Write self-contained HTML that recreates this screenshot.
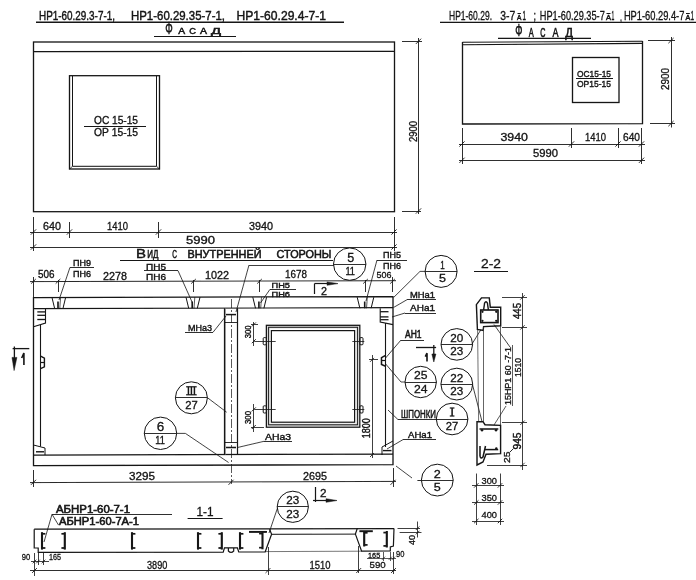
<!DOCTYPE html>
<html><head><meta charset="utf-8"><title>drawing</title>
<style>
html,body{margin:0;padding:0;background:#fff;}
body{width:696px;height:580px;overflow:hidden;}
svg{display:block;}
text{font-family:"Liberation Sans",sans-serif;fill:#141414;}
</style></head><body>
<svg width="696" height="580" viewBox="0 0 696 580">
<defs><filter id="scan" x="0" y="0" width="696" height="580" filterUnits="userSpaceOnUse"><feGaussianBlur stdDeviation="0.38"/></filter></defs>
<rect x="0" y="0" width="696" height="580" fill="#ffffff"/>
<g filter="url(#scan)">
<text x="39" y="19.6" font-size="12" textLength="76" lengthAdjust="spacingAndGlyphs" stroke="#141414" stroke-width="0.4" >НР1-60.29.3-7-1,</text>
<text x="131" y="19.6" font-size="12" textLength="94" lengthAdjust="spacingAndGlyphs" stroke="#141414" stroke-width="0.4" >НР1-60.29.35-7-1,</text>
<text x="236.5" y="19.6" font-size="12" textLength="89.5" lengthAdjust="spacingAndGlyphs" stroke="#141414" stroke-width="0.4" >НР1-60.29.4-7-1</text>
<line x1="36" y1="22.2" x2="344" y2="22.2" stroke="#141414" stroke-width="1.4" />
<text x="165.3" y="33.8" font-size="16.5" textLength="7.5" lengthAdjust="spacingAndGlyphs" stroke="#141414" stroke-width="0.45" >Ф</text>
<text x="178.3" y="33.8" font-size="8.6" textLength="6.899999999999977" lengthAdjust="spacingAndGlyphs" stroke="#141414" stroke-width="0.45" >А</text>
<text x="189.3" y="33.8" font-size="8.6" textLength="6.699999999999989" lengthAdjust="spacingAndGlyphs" stroke="#141414" stroke-width="0.45" >С</text>
<text x="200" y="33.8" font-size="8.6" textLength="7" lengthAdjust="spacingAndGlyphs" stroke="#141414" stroke-width="0.45" >А</text>
<text x="211" y="33.8" font-size="8.6" textLength="10" lengthAdjust="spacingAndGlyphs" stroke="#141414" stroke-width="0.45" >Д</text>
<line x1="154" y1="36.5" x2="236" y2="36.5" stroke="#141414" stroke-width="1.2" />
<rect x="33.5" y="42" width="361.0" height="169.7" stroke="#141414" stroke-width="1.3" fill="none"/>
<line x1="33.5" y1="51.7" x2="394.5" y2="51.3" stroke="#141414" stroke-width="1.3" />
<rect x="69.5" y="75.7" width="90.0" height="93.3" stroke="#141414" stroke-width="1.3" fill="none"/>
<path d="M72.5,76 L72.5,166.3 L156.5,166.3 L156.5,76" stroke="#141414" stroke-width="1.0" fill="none" />
<line x1="69.5" y1="169" x2="72.5" y2="166.3" stroke="#141414" stroke-width="0.8" />
<line x1="159.5" y1="169" x2="156.5" y2="166.3" stroke="#141414" stroke-width="0.8" />
<text x="94" y="124" font-size="11" textLength="44" lengthAdjust="spacingAndGlyphs" stroke="#141414" stroke-width="0.35" >ОС 15-15</text>
<line x1="84" y1="126.5" x2="146" y2="126.5" stroke="#141414" stroke-width="1.1" />
<text x="94" y="135.5" font-size="11" textLength="44" lengthAdjust="spacingAndGlyphs" stroke="#141414" stroke-width="0.35" >ОР 15-15</text>
<line x1="33.5" y1="217" x2="33.5" y2="251" stroke="#141414" stroke-width="0.9" />
<line x1="69.5" y1="222" x2="69.5" y2="238" stroke="#141414" stroke-width="0.9" />
<line x1="158.5" y1="222" x2="158.5" y2="238" stroke="#141414" stroke-width="0.9" />
<line x1="394.5" y1="217" x2="394.5" y2="251" stroke="#141414" stroke-width="0.9" />
<line x1="30" y1="232.5" x2="397" y2="232.5" stroke="#141414" stroke-width="0.9" />
<line x1="30" y1="247.5" x2="397" y2="247.5" stroke="#141414" stroke-width="0.9" />
<line x1="30.9" y1="234.6" x2="36.1" y2="229.4" stroke="#141414" stroke-width="0.9" />
<line x1="66.9" y1="234.6" x2="72.1" y2="229.4" stroke="#141414" stroke-width="0.9" />
<line x1="155.9" y1="234.6" x2="161.1" y2="229.4" stroke="#141414" stroke-width="0.9" />
<line x1="391.4" y1="234.6" x2="396.6" y2="229.4" stroke="#141414" stroke-width="0.9" />
<line x1="30.9" y1="249.6" x2="36.1" y2="244.4" stroke="#141414" stroke-width="0.9" />
<line x1="391.4" y1="249.6" x2="396.6" y2="244.4" stroke="#141414" stroke-width="0.9" />
<text x="43" y="230.3" font-size="10" textLength="18" lengthAdjust="spacingAndGlyphs" stroke="#141414" stroke-width="0.3" >640</text>
<text x="107" y="230.3" font-size="10" textLength="21" lengthAdjust="spacingAndGlyphs" stroke="#141414" stroke-width="0.3" >1410</text>
<text x="249" y="229.5" font-size="10" textLength="24" lengthAdjust="spacingAndGlyphs" stroke="#141414" stroke-width="0.3" >3940</text>
<text x="186" y="243.5" font-size="10" textLength="29" lengthAdjust="spacingAndGlyphs" stroke="#141414" stroke-width="0.3" >5990</text>
<line x1="418.5" y1="38" x2="418.5" y2="214" stroke="#141414" stroke-width="0.9" />
<line x1="402" y1="41.5" x2="422" y2="41.5" stroke="#141414" stroke-width="0.9" />
<line x1="402" y1="211.5" x2="421" y2="211.5" stroke="#141414" stroke-width="0.9" />
<line x1="415.9" y1="43.9" x2="421.1" y2="38.699999999999996" stroke="#141414" stroke-width="0.9" />
<line x1="415.9" y1="213.6" x2="421.1" y2="208.4" stroke="#141414" stroke-width="0.9" />
<text transform="translate(417,142) rotate(-90)" x="0" y="0" font-size="10" textLength="21" lengthAdjust="spacingAndGlyphs" stroke="#141414" stroke-width="0.3">2900</text>
<text x="449" y="19.6" font-size="12" textLength="43" lengthAdjust="spacingAndGlyphs" stroke="#141414" stroke-width="0.3" >НР1-60.29.</text>
<text x="500.2" y="19.6" font-size="12" textLength="15.000000000000057" lengthAdjust="spacingAndGlyphs" stroke="#141414" stroke-width="0.3" >3-7</text>
<text x="517" y="19.8" font-size="6.5" textLength="4.399999999999977" lengthAdjust="spacingAndGlyphs" stroke="#141414" stroke-width="0.45" >А</text>
<line x1="517.5" y1="13.5" x2="520.9" y2="13.5" stroke="#141414" stroke-width="1.0" />
<text x="522.6" y="19.6" font-size="12" textLength="3.3999999999999773" lengthAdjust="spacingAndGlyphs" stroke="#141414" stroke-width="0.4" >1</text>
<text x="533.5" y="19.6" font-size="12" textLength="2.5" lengthAdjust="spacingAndGlyphs" stroke="#141414" stroke-width="0.4" >;</text>
<text x="539.8" y="19.6" font-size="12" textLength="65.0" lengthAdjust="spacingAndGlyphs" stroke="#141414" stroke-width="0.3" >НР1-60.29.35-7</text>
<text x="606" y="19.8" font-size="6.5" textLength="5" lengthAdjust="spacingAndGlyphs" stroke="#141414" stroke-width="0.45" >А</text>
<line x1="606.5" y1="13.5" x2="610.5" y2="13.5" stroke="#141414" stroke-width="1.0" />
<text x="611.6" y="19.6" font-size="12" textLength="2.7999999999999545" lengthAdjust="spacingAndGlyphs" stroke="#141414" stroke-width="0.4" >1</text>
<text x="620" y="20.5" font-size="12" textLength="2" lengthAdjust="spacingAndGlyphs" stroke="#141414" stroke-width="0.4" >,</text>
<text x="623.9" y="19.6" font-size="12" textLength="60.5" lengthAdjust="spacingAndGlyphs" stroke="#141414" stroke-width="0.3" >НР1-60.29.4-7</text>
<text x="685.5" y="19.8" font-size="6.5" textLength="4.7999999999999545" lengthAdjust="spacingAndGlyphs" stroke="#141414" stroke-width="0.45" >А</text>
<line x1="686.0" y1="13.5" x2="689.8" y2="13.5" stroke="#141414" stroke-width="1.0" />
<text x="690.8" y="19.6" font-size="12" textLength="3.2000000000000455" lengthAdjust="spacingAndGlyphs" stroke="#141414" stroke-width="0.4" >1</text>
<line x1="440" y1="22.4" x2="696" y2="22.4" stroke="#141414" stroke-width="1.4" />
<text x="515.3" y="35.6" font-size="16.5" textLength="7.2000000000000455" lengthAdjust="spacingAndGlyphs" stroke="#141414" stroke-width="0.5" >Ф</text>
<text x="528.8" y="36.9" font-size="12.5" textLength="5.0" lengthAdjust="spacingAndGlyphs" stroke="#141414" stroke-width="0.55" >А</text>
<text x="540.3" y="36.9" font-size="12.5" textLength="5.2000000000000455" lengthAdjust="spacingAndGlyphs" stroke="#141414" stroke-width="0.55" >С</text>
<text x="552.4" y="36.9" font-size="12.5" textLength="6.0" lengthAdjust="spacingAndGlyphs" stroke="#141414" stroke-width="0.55" >А</text>
<text x="565.3" y="36.9" font-size="12.5" textLength="7.7000000000000455" lengthAdjust="spacingAndGlyphs" stroke="#141414" stroke-width="0.55" >Д</text>
<line x1="498" y1="38.4" x2="591" y2="38.4" stroke="#141414" stroke-width="1.3" />
<line x1="462.5" y1="42.2" x2="642.5" y2="41.2" stroke="#141414" stroke-width="1.1" />
<line x1="462.5" y1="44.8" x2="642.5" y2="43.4" stroke="#141414" stroke-width="1.1" />
<path d="M462.5,42 L462.5,124 L642.5,123.6 L642.5,41" stroke="#141414" stroke-width="1.3" fill="none" />
<rect x="572.5" y="57.5" width="46.5" height="45.0" stroke="#141414" stroke-width="1.3" fill="none"/>
<text x="577" y="77" font-size="9.6" textLength="34" lengthAdjust="spacingAndGlyphs" stroke="#141414" stroke-width="0.4" >ОС15-15</text>
<line x1="576" y1="78.5" x2="613" y2="78.5" stroke="#141414" stroke-width="1.1" />
<text x="577" y="87.2" font-size="9.6" textLength="34" lengthAdjust="spacingAndGlyphs" stroke="#141414" stroke-width="0.4" >ОР15-15</text>
<line x1="462.5" y1="128" x2="462.5" y2="164" stroke="#141414" stroke-width="0.9" />
<line x1="571.5" y1="128" x2="571.5" y2="148" stroke="#141414" stroke-width="0.9" />
<line x1="618.5" y1="128" x2="618.5" y2="148" stroke="#141414" stroke-width="0.9" />
<line x1="641.5" y1="128" x2="641.5" y2="164" stroke="#141414" stroke-width="0.9" />
<line x1="459" y1="144.5" x2="645" y2="144.5" stroke="#141414" stroke-width="0.9" />
<line x1="459" y1="160.5" x2="645" y2="160.5" stroke="#141414" stroke-width="0.9" />
<line x1="459.4" y1="146.6" x2="464.6" y2="141.4" stroke="#141414" stroke-width="0.9" />
<line x1="568.9" y1="146.6" x2="574.1" y2="141.4" stroke="#141414" stroke-width="0.9" />
<line x1="615.4" y1="146.6" x2="620.6" y2="141.4" stroke="#141414" stroke-width="0.9" />
<line x1="638.9" y1="146.6" x2="644.1" y2="141.4" stroke="#141414" stroke-width="0.9" />
<line x1="459.4" y1="162.9" x2="464.6" y2="157.70000000000002" stroke="#141414" stroke-width="0.9" />
<line x1="638.9" y1="162.9" x2="644.1" y2="157.70000000000002" stroke="#141414" stroke-width="0.9" />
<text x="500.5" y="141.3" font-size="10" textLength="27.5" lengthAdjust="spacingAndGlyphs" stroke="#141414" stroke-width="0.3" >3940</text>
<text x="585" y="141.3" font-size="10" textLength="21" lengthAdjust="spacingAndGlyphs" stroke="#141414" stroke-width="0.3" >1410</text>
<text x="623" y="141.3" font-size="10" textLength="17" lengthAdjust="spacingAndGlyphs" stroke="#141414" stroke-width="0.3" >640</text>
<text x="533" y="157.3" font-size="10" textLength="25" lengthAdjust="spacingAndGlyphs" stroke="#141414" stroke-width="0.3" >5990</text>
<line x1="671.5" y1="37" x2="671.5" y2="127.5" stroke="#141414" stroke-width="0.9" />
<line x1="648" y1="40.5" x2="675" y2="40.5" stroke="#141414" stroke-width="0.9" />
<line x1="650" y1="123.5" x2="675" y2="123.5" stroke="#141414" stroke-width="0.9" />
<line x1="668.4" y1="43.2" x2="673.6" y2="38.0" stroke="#141414" stroke-width="0.9" />
<line x1="668.4" y1="126.19999999999999" x2="673.6" y2="121.0" stroke="#141414" stroke-width="0.9" />
<text transform="translate(669,90) rotate(-90)" x="0" y="0" font-size="10" textLength="22" lengthAdjust="spacingAndGlyphs" stroke="#141414" stroke-width="0.3">2900</text>
<text x="136" y="258" font-size="13.5" textLength="10" lengthAdjust="spacingAndGlyphs" stroke="#141414" stroke-width="0.45" >В</text>
<text x="147.3" y="258" font-size="10.8" textLength="11.199999999999989" lengthAdjust="spacingAndGlyphs" stroke="#141414" stroke-width="0.5" >ИД</text>
<text x="172.3" y="258" font-size="10.5" textLength="4.699999999999989" lengthAdjust="spacingAndGlyphs" stroke="#141414" stroke-width="0.5" >С</text>
<text x="187.5" y="258" font-size="10.5" textLength="74.0" lengthAdjust="spacingAndGlyphs" stroke="#141414" stroke-width="0.5" >ВНУТРЕННЕЙ</text>
<text x="276.5" y="258" font-size="10.5" textLength="55.0" lengthAdjust="spacingAndGlyphs" stroke="#141414" stroke-width="0.5" >СТОРОНЫ</text>
<line x1="120" y1="260.5" x2="333" y2="260.5" stroke="#141414" stroke-width="1.2" />
<line x1="30" y1="281.6" x2="396" y2="280.7" stroke="#141414" stroke-width="0.9" />
<line x1="33.5" y1="277" x2="33.5" y2="297" stroke="#141414" stroke-width="0.9" />
<line x1="58.5" y1="280" x2="58.5" y2="292" stroke="#141414" stroke-width="0.9" />
<line x1="193.5" y1="280" x2="193.5" y2="292" stroke="#141414" stroke-width="0.9" />
<line x1="259.5" y1="280" x2="259.5" y2="292" stroke="#141414" stroke-width="0.9" />
<line x1="365.5" y1="280" x2="365.5" y2="292" stroke="#141414" stroke-width="0.9" />
<line x1="392.5" y1="277" x2="392.5" y2="292" stroke="#141414" stroke-width="0.9" />
<line x1="31.2" y1="283.6" x2="35.8" y2="279.0" stroke="#141414" stroke-width="0.9" />
<line x1="55.7" y1="283.6" x2="60.3" y2="279.0" stroke="#141414" stroke-width="0.9" />
<line x1="191.2" y1="283.6" x2="195.8" y2="279.0" stroke="#141414" stroke-width="0.9" />
<line x1="257.2" y1="283.6" x2="261.8" y2="279.0" stroke="#141414" stroke-width="0.9" />
<line x1="363.2" y1="283.6" x2="367.8" y2="279.0" stroke="#141414" stroke-width="0.9" />
<line x1="390.2" y1="283.6" x2="394.8" y2="279.0" stroke="#141414" stroke-width="0.9" />
<text x="38" y="278.3" font-size="11" textLength="16.5" lengthAdjust="spacingAndGlyphs" stroke="#141414" stroke-width="0.35" >506</text>
<text x="103" y="279.5" font-size="10" textLength="24" lengthAdjust="spacingAndGlyphs" stroke="#141414" stroke-width="0.3" >2278</text>
<text x="205" y="279" font-size="10" textLength="24" lengthAdjust="spacingAndGlyphs" stroke="#141414" stroke-width="0.3" >1022</text>
<text x="285" y="278.2" font-size="10" textLength="22" lengthAdjust="spacingAndGlyphs" stroke="#141414" stroke-width="0.3" >1678</text>
<text x="376.5" y="278.3" font-size="9.5" textLength="15.0" lengthAdjust="spacingAndGlyphs" stroke="#141414" stroke-width="0.3" >506</text>
<text x="73" y="266.3" font-size="9" textLength="18" lengthAdjust="spacingAndGlyphs" stroke="#141414" stroke-width="0.4" >ПН9</text>
<line x1="70" y1="267.5" x2="94" y2="267.5" stroke="#141414" stroke-width="0.9" />
<text x="73" y="277.2" font-size="9" textLength="18" lengthAdjust="spacingAndGlyphs" stroke="#141414" stroke-width="0.4" >ПН6</text>
<line x1="70" y1="267.3" x2="59" y2="300" stroke="#141414" stroke-width="0.8" />
<text x="146" y="269.5" font-size="9" textLength="20" lengthAdjust="spacingAndGlyphs" stroke="#141414" stroke-width="0.4" >ПН5</text>
<line x1="144" y1="270.5" x2="178" y2="270.5" stroke="#141414" stroke-width="0.9" />
<text x="146" y="280" font-size="9" textLength="20" lengthAdjust="spacingAndGlyphs" stroke="#141414" stroke-width="0.4" >ПН6</text>
<line x1="178" y1="270.7" x2="192.5" y2="303" stroke="#141414" stroke-width="0.8" />
<text x="271.5" y="288.3" font-size="8" textLength="18.5" lengthAdjust="spacingAndGlyphs" stroke="#141414" stroke-width="0.4" >ПН5</text>
<line x1="270" y1="289.5" x2="296" y2="289.5" stroke="#141414" stroke-width="0.9" />
<text x="271.5" y="297" font-size="8" textLength="18.5" lengthAdjust="spacingAndGlyphs" stroke="#141414" stroke-width="0.4" >ПН6</text>
<line x1="270" y1="289.3" x2="260.5" y2="303" stroke="#141414" stroke-width="0.8" />
<text x="383" y="258.3" font-size="9" textLength="18" lengthAdjust="spacingAndGlyphs" stroke="#141414" stroke-width="0.4" >ПН5</text>
<line x1="377" y1="260.5" x2="407" y2="260.5" stroke="#141414" stroke-width="0.9" />
<text x="383" y="268.5" font-size="9" textLength="18" lengthAdjust="spacingAndGlyphs" stroke="#141414" stroke-width="0.4" >ПН6</text>
<line x1="377" y1="260" x2="366" y2="301" stroke="#141414" stroke-width="0.8" />
<line x1="249" y1="265.5" x2="334" y2="265.5" stroke="#141414" stroke-width="0.8" />
<line x1="249" y1="265" x2="236" y2="312" stroke="#141414" stroke-width="0.8" />
<circle cx="349.7" cy="264.1" r="16.2" stroke="#141414" stroke-width="1.0" fill="none"/>
<line x1="333.5" y1="264.5" x2="365.9" y2="264.5" stroke="#141414" stroke-width="0.9" />
<text x="347.2" y="261.5" font-size="12" textLength="7.0" lengthAdjust="spacingAndGlyphs" stroke="#141414" stroke-width="0.3" >5</text>
<text x="345.4" y="274.82000000000005" font-size="11" textLength="9.600000000000023" lengthAdjust="spacingAndGlyphs" stroke="#141414" stroke-width="0.35" >11</text>
<path d="M33.5,297.6 L393,296.6 L393,464.6 L33.5,465.7 Z" stroke="#141414" stroke-width="1.3" fill="none" />
<line x1="33.5" y1="308.7" x2="393" y2="307.6" stroke="#141414" stroke-width="1.2" />
<line x1="33.5" y1="455.1" x2="393" y2="454.1" stroke="#141414" stroke-width="1.2" />
<line x1="40.5" y1="325" x2="40.5" y2="446.5" stroke="#141414" stroke-width="1.1" />
<path d="M45.5,308.3 L45.5,323 L33.5,326.7" stroke="#141414" stroke-width="1.1" fill="none" />
<line x1="37.3" y1="311.9" x2="45.5" y2="311.9" stroke="#141414" stroke-width="1.3" />
<line x1="37.3" y1="315.3" x2="45.5" y2="315.3" stroke="#141414" stroke-width="1.3" />
<line x1="37.3" y1="319.5" x2="45.5" y2="319.5" stroke="#141414" stroke-width="1.3" />
<path d="M33.5,445 L45,448 L45,455" stroke="#141414" stroke-width="1.0" fill="none" />
<line x1="36" y1="451.8" x2="44" y2="451.8" stroke="#141414" stroke-width="1.4" />
<path d="M40.6,356.2 L44.4,358.2 L44.4,366.8 L40.6,368.6" stroke="#141414" stroke-width="1.4" fill="none" />
<line x1="40.6" y1="362.5" x2="44.4" y2="362.5" stroke="#141414" stroke-width="1.2" />
<line x1="385.5" y1="323" x2="385.5" y2="447" stroke="#141414" stroke-width="1.1" />
<path d="M380.2,308.3 L380.2,322 L393,324.6" stroke="#141414" stroke-width="1.1" fill="none" />
<line x1="380.2" y1="311.7" x2="388.5" y2="311.7" stroke="#141414" stroke-width="1.3" />
<line x1="380.2" y1="316.9" x2="388.5" y2="316.9" stroke="#141414" stroke-width="1.3" />
<line x1="380.2" y1="319.7" x2="388.5" y2="319.7" stroke="#141414" stroke-width="1.3" />
<path d="M393,441 L382,447 L382,455" stroke="#141414" stroke-width="1.0" fill="none" />
<line x1="383" y1="450.6" x2="391.5" y2="450.6" stroke="#141414" stroke-width="1.4" />
<path d="M385.6,355.3 L381.5,357.6 L381.5,364.5 L385.6,366.2" stroke="#141414" stroke-width="1.5" fill="none" />
<line x1="381.5" y1="360.5" x2="385.6" y2="360.5" stroke="#141414" stroke-width="1.2" />
<line x1="224.5" y1="308.3" x2="224.5" y2="455" stroke="#141414" stroke-width="1.2" />
<line x1="237.5" y1="308.3" x2="237.5" y2="455" stroke="#141414" stroke-width="1.2" />
<line x1="225.5" y1="308.3" x2="225.5" y2="455" stroke="#666" stroke-width="0.6" />
<line x1="231.5" y1="299" x2="231.5" y2="484" stroke="#141414" stroke-width="0.7" stroke-dasharray="9 2 2 2"/>
<line x1="226" y1="314.6" x2="236" y2="314.6" stroke="#141414" stroke-width="1.5" />
<line x1="224" y1="322.5" x2="237.6" y2="322.5" stroke="#141414" stroke-width="0.9" />
<line x1="224" y1="442.5" x2="237.6" y2="442.5" stroke="#141414" stroke-width="0.9" />
<line x1="226" y1="447.5" x2="236" y2="447.5" stroke="#141414" stroke-width="1.5" />
<line x1="51.9" y1="297.2" x2="54.6" y2="308.3" stroke="#141414" stroke-width="1.0" />
<line x1="65.7" y1="297.2" x2="63.0" y2="308.3" stroke="#141414" stroke-width="1.0" />
<line x1="58.0" y1="301.5" x2="58.0" y2="308.3" stroke="#141414" stroke-width="1.6" />
<line x1="60.599999999999994" y1="297.2" x2="59.8" y2="308.3" stroke="#141414" stroke-width="0.7" />
<line x1="186" y1="297.2" x2="188.7" y2="308.3" stroke="#141414" stroke-width="1.0" />
<line x1="200" y1="297.2" x2="197.3" y2="308.3" stroke="#141414" stroke-width="1.0" />
<line x1="192.2" y1="301.5" x2="192.2" y2="308.3" stroke="#141414" stroke-width="1.6" />
<line x1="194.8" y1="297.2" x2="194.0" y2="308.3" stroke="#141414" stroke-width="0.7" />
<line x1="252.8" y1="297.2" x2="255.5" y2="308.3" stroke="#141414" stroke-width="1.0" />
<line x1="266.6" y1="297.2" x2="263.90000000000003" y2="308.3" stroke="#141414" stroke-width="1.0" />
<line x1="258.90000000000003" y1="301.5" x2="258.90000000000003" y2="308.3" stroke="#141414" stroke-width="1.6" />
<line x1="261.50000000000006" y1="297.2" x2="260.70000000000005" y2="308.3" stroke="#141414" stroke-width="0.7" />
<line x1="357.2" y1="297.2" x2="359.9" y2="308.3" stroke="#141414" stroke-width="1.0" />
<line x1="373.8" y1="297.2" x2="371.1" y2="308.3" stroke="#141414" stroke-width="1.0" />
<line x1="364.7" y1="301.5" x2="364.7" y2="308.3" stroke="#141414" stroke-width="1.6" />
<line x1="367.3" y1="297.2" x2="366.5" y2="308.3" stroke="#141414" stroke-width="0.7" />
<rect x="268.5" y="327.2" width="89.10000000000002" height="97.6" fill="none" stroke="#c8c8c8" stroke-width="2.2"/>
<rect x="266.4" y="325.3" width="93.40000000000003" height="101.89999999999998" stroke="#141414" stroke-width="1.3" fill="none"/>
<rect x="268.6" y="327.3" width="89.0" height="97.5" stroke="#141414" stroke-width="0.9" fill="none"/>
<rect x="271.4" y="330.6" width="83.20000000000005" height="91.59999999999997" stroke="#141414" stroke-width="1.2" fill="none"/>
<rect x="263.2" y="337.6" width="3.2" height="7.2" rx="1" stroke="#141414" stroke-width="1" fill="none"/>
<line x1="254.2" y1="341.5" x2="275.7" y2="341.5" stroke="#141414" stroke-width="0.8" />
<rect x="263.2" y="405.8" width="3.2" height="7.2" rx="1" stroke="#141414" stroke-width="1" fill="none"/>
<line x1="254.2" y1="409.5" x2="275.7" y2="409.5" stroke="#141414" stroke-width="0.8" />
<rect x="359.8" y="337.6" width="3.2" height="7.2" rx="1" stroke="#141414" stroke-width="1" fill="none"/>
<line x1="352.3" y1="341.5" x2="364.3" y2="341.5" stroke="#141414" stroke-width="0.8" />
<rect x="359.8" y="405.8" width="3.2" height="7.2" rx="1" stroke="#141414" stroke-width="1" fill="none"/>
<line x1="352.3" y1="409.5" x2="364.3" y2="409.5" stroke="#141414" stroke-width="0.8" />
<line x1="253.5" y1="322" x2="253.5" y2="346" stroke="#141414" stroke-width="0.8" />
<line x1="251" y1="324.5" x2="258" y2="324.5" stroke="#141414" stroke-width="0.8" />
<line x1="251.8" y1="326.5" x2="255.8" y2="322.5" stroke="#141414" stroke-width="0.9" />
<line x1="251.8" y1="343.2" x2="255.8" y2="339.2" stroke="#141414" stroke-width="0.9" />
<text transform="translate(250.8,338.3) rotate(-90)" x="0" y="0" font-size="8.5" textLength="12.800000000000011" lengthAdjust="spacingAndGlyphs" stroke="#141414" stroke-width="0.35">300</text>
<line x1="253.5" y1="404" x2="253.5" y2="432" stroke="#141414" stroke-width="0.8" />
<line x1="251" y1="427.5" x2="264" y2="427.5" stroke="#141414" stroke-width="0.8" />
<line x1="251.8" y1="411.4" x2="255.8" y2="407.4" stroke="#141414" stroke-width="0.9" />
<line x1="251.8" y1="429" x2="255.8" y2="425" stroke="#141414" stroke-width="0.9" />
<text transform="translate(250.8,424) rotate(-90)" x="0" y="0" font-size="8.5" textLength="13" lengthAdjust="spacingAndGlyphs" stroke="#141414" stroke-width="0.35">300</text>
<line x1="372.5" y1="355" x2="372.5" y2="458" stroke="#141414" stroke-width="0.8" />
<line x1="369" y1="359.5" x2="378" y2="359.5" stroke="#141414" stroke-width="0.8" />
<line x1="370" y1="361.9" x2="374" y2="357.9" stroke="#141414" stroke-width="0.8" />
<line x1="370" y1="457" x2="374" y2="453" stroke="#141414" stroke-width="0.8" />
<text transform="translate(370.2,438.3) rotate(-90)" x="0" y="0" font-size="10.5" textLength="20.0" lengthAdjust="spacingAndGlyphs" stroke="#141414" stroke-width="0.4">1800</text>
<text x="188" y="331" font-size="9.5" textLength="24" lengthAdjust="spacingAndGlyphs" stroke="#141414" stroke-width="0.4" >МНа3</text>
<line x1="185" y1="332.5" x2="213" y2="332.5" stroke="#141414" stroke-width="0.9" />
<line x1="213" y1="332.3" x2="226" y2="316" stroke="#141414" stroke-width="0.8" />
<text x="265" y="440" font-size="9.5" textLength="26" lengthAdjust="spacingAndGlyphs" stroke="#141414" stroke-width="0.4" >АНа3</text>
<line x1="264" y1="441.5" x2="292" y2="441.5" stroke="#141414" stroke-width="0.9" />
<line x1="264" y1="441.3" x2="237.5" y2="447.5" stroke="#141414" stroke-width="0.8" />
<text x="410" y="297.6" font-size="9.5" textLength="25" lengthAdjust="spacingAndGlyphs" stroke="#141414" stroke-width="0.4" >МНа1</text>
<line x1="407" y1="299.5" x2="436" y2="299.5" stroke="#141414" stroke-width="0.9" />
<line x1="407" y1="299.7" x2="393.5" y2="307.5" stroke="#141414" stroke-width="0.8" />
<text x="410" y="311.3" font-size="9.5" textLength="25" lengthAdjust="spacingAndGlyphs" stroke="#141414" stroke-width="0.4" >АНа1</text>
<line x1="405" y1="313.5" x2="436" y2="313.5" stroke="#141414" stroke-width="0.9" />
<line x1="405" y1="313" x2="392" y2="317" stroke="#141414" stroke-width="0.8" />
<text x="405" y="338.2" font-size="10" textLength="16.5" lengthAdjust="spacingAndGlyphs" stroke="#141414" stroke-width="0.5" >АН1</text>
<line x1="401" y1="340.5" x2="424" y2="340.5" stroke="#141414" stroke-width="0.9" />
<line x1="401" y1="340" x2="385.6" y2="358" stroke="#141414" stroke-width="0.8" />
<text x="401" y="418.3" font-size="10" textLength="35" lengthAdjust="spacingAndGlyphs" stroke="#141414" stroke-width="0.45" >ШПОНКИ</text>
<line x1="398" y1="419.5" x2="437" y2="419.5" stroke="#141414" stroke-width="0.9" />
<line x1="398" y1="419.6" x2="388" y2="410" stroke="#141414" stroke-width="0.8" />
<text x="408" y="438" font-size="9.5" textLength="24" lengthAdjust="spacingAndGlyphs" stroke="#141414" stroke-width="0.4" >АНа1</text>
<line x1="403" y1="439.5" x2="436" y2="439.5" stroke="#141414" stroke-width="0.9" />
<line x1="403" y1="439.6" x2="387" y2="449" stroke="#141414" stroke-width="0.8" />
<line x1="12.6" y1="348.6" x2="29.3" y2="348.6" stroke="#141414" stroke-width="1.3" />
<line x1="14.4" y1="346.5" x2="14.4" y2="360" stroke="#141414" stroke-width="1.3" />
<path d="M12,357.4 L14.1,370.6 L16.9,357.4 Z" stroke="#141414" stroke-width="0.5" fill="#141414" />
<path d="M21.7,358 L23.9,353 L23.9,365" stroke="#141414" stroke-width="1.6" fill="none" />
<line x1="416" y1="347.5" x2="436.1" y2="347.5" stroke="#141414" stroke-width="1.3" />
<line x1="433.8" y1="345" x2="433.8" y2="356" stroke="#141414" stroke-width="1.3" />
<path d="M431.9,354 L433.8,362 L435.9,354 Z" stroke="#141414" stroke-width="0.5" fill="#141414" />
<path d="M425.3,356.6 L427,353.2 L427,361.5" stroke="#141414" stroke-width="1.6" fill="none" />
<line x1="314.5" y1="283.5" x2="330" y2="283.5" stroke="#141414" stroke-width="1.2" />
<line x1="314.5" y1="283.6" x2="314.5" y2="294" stroke="#141414" stroke-width="1.2" />
<path d="M327,281.9 L338,283.6 L327,285.3 Z" stroke="#141414" stroke-width="0.5" fill="#141414" />
<text x="321" y="295" font-size="10.5" textLength="6" lengthAdjust="spacingAndGlyphs" stroke="#141414" stroke-width="0.3" >2</text>
<line x1="315.5" y1="487" x2="315.5" y2="502" stroke="#141414" stroke-width="1.2" />
<line x1="313" y1="500.5" x2="328" y2="500.5" stroke="#141414" stroke-width="1.2" />
<path d="M326,498.7 L337,500.5 L326,502.3 Z" stroke="#141414" stroke-width="0.5" fill="#141414" />
<text x="320" y="497" font-size="11" textLength="6.5" lengthAdjust="spacingAndGlyphs" stroke="#141414" stroke-width="0.3" >2</text>
<circle cx="441.1" cy="271.4" r="16" stroke="#141414" stroke-width="1.0" fill="none"/>
<line x1="425.1" y1="271.5" x2="457.1" y2="271.5" stroke="#141414" stroke-width="0.9" />
<text x="440.15000000000003" y="268.79999999999995" font-size="11" textLength="4.5" lengthAdjust="spacingAndGlyphs" stroke="#141414" stroke-width="0.3" >1</text>
<text x="438.90000000000003" y="282.12" font-size="11" textLength="7.0" lengthAdjust="spacingAndGlyphs" stroke="#141414" stroke-width="0.3" >5</text>
<path d="M425,271.4 L420,271.4 L393.6,297.5" stroke="#141414" stroke-width="0.8" fill="none" />
<circle cx="191.4" cy="397.8" r="16" stroke="#141414" stroke-width="1.0" fill="none"/>
<line x1="175.4" y1="397.5" x2="207.4" y2="397.5" stroke="#141414" stroke-width="0.9" />
<line x1="188.4" y1="386.8" x2="188.4" y2="394.8" stroke="#141414" stroke-width="1.5"/>
<line x1="191.4" y1="386.8" x2="191.4" y2="394.8" stroke="#141414" stroke-width="1.5"/>
<line x1="194.4" y1="386.8" x2="194.4" y2="394.8" stroke="#141414" stroke-width="1.5"/>
<line x1="186.1" y1="386.8" x2="196.70000000000002" y2="386.8" stroke="#141414" stroke-width="1.2"/>
<line x1="186.1" y1="394.8" x2="196.70000000000002" y2="394.8" stroke="#141414" stroke-width="1.2"/>
<text x="185.15" y="408.52000000000004" font-size="11" textLength="12.5" lengthAdjust="spacingAndGlyphs" stroke="#141414" stroke-width="0.3" >27</text>
<line x1="207.6" y1="397.8" x2="226.6" y2="412.2" stroke="#141414" stroke-width="0.8" />
<circle cx="160.5" cy="433.3" r="16.2" stroke="#141414" stroke-width="1.0" fill="none"/>
<line x1="144.3" y1="433.5" x2="176.7" y2="433.5" stroke="#141414" stroke-width="0.9" />
<text x="156.75" y="430.7" font-size="13" textLength="7.5" lengthAdjust="spacingAndGlyphs" stroke="#141414" stroke-width="0.3" >6</text>
<text x="155.2" y="444.02000000000004" font-size="11" textLength="9.600000000000023" lengthAdjust="spacingAndGlyphs" stroke="#141414" stroke-width="0.35" >11</text>
<path d="M176.7,433.4 L185.4,433.4 L228.6,462.5" stroke="#141414" stroke-width="0.8" fill="none" />
<circle cx="420.7" cy="382" r="15.7" stroke="#141414" stroke-width="1.0" fill="none"/>
<line x1="405.0" y1="382.5" x2="436.4" y2="382.5" stroke="#141414" stroke-width="0.9" />
<text x="413.95" y="379.4" font-size="11.5" textLength="13.5" lengthAdjust="spacingAndGlyphs" stroke="#141414" stroke-width="0.3" >25</text>
<text x="413.95" y="393.08" font-size="11.5" textLength="13.5" lengthAdjust="spacingAndGlyphs" stroke="#141414" stroke-width="0.3" >24</text>
<path d="M385.7,364 L401,382 L405,382" stroke="#141414" stroke-width="0.8" fill="none" />
<circle cx="456.8" cy="344.4" r="15.8" stroke="#141414" stroke-width="1.0" fill="none"/>
<line x1="441.0" y1="344.5" x2="472.6" y2="344.5" stroke="#141414" stroke-width="0.9" />
<text x="450.3" y="341.79999999999995" font-size="11" textLength="13.0" lengthAdjust="spacingAndGlyphs" stroke="#141414" stroke-width="0.3" >20</text>
<text x="450.3" y="355.12" font-size="11" textLength="13.0" lengthAdjust="spacingAndGlyphs" stroke="#141414" stroke-width="0.3" >23</text>
<line x1="472" y1="344" x2="481" y2="329.5" stroke="#141414" stroke-width="0.8" />
<circle cx="456.8" cy="384.1" r="15.9" stroke="#141414" stroke-width="1.0" fill="none"/>
<line x1="440.90000000000003" y1="384.5" x2="472.7" y2="384.5" stroke="#141414" stroke-width="0.9" />
<text x="450.3" y="381.5" font-size="11" textLength="13.0" lengthAdjust="spacingAndGlyphs" stroke="#141414" stroke-width="0.3" >22</text>
<text x="450.3" y="394.82000000000005" font-size="11" textLength="13.0" lengthAdjust="spacingAndGlyphs" stroke="#141414" stroke-width="0.3" >23</text>
<line x1="472.6" y1="385" x2="482" y2="421.5" stroke="#141414" stroke-width="0.8" />
<circle cx="452.1" cy="419" r="15.8" stroke="#141414" stroke-width="1.0" fill="none"/>
<line x1="436.3" y1="419.5" x2="467.90000000000003" y2="419.5" stroke="#141414" stroke-width="0.9" />
<line x1="452.1" y1="408" x2="452.1" y2="416" stroke="#141414" stroke-width="1.5"/>
<line x1="449.8" y1="408" x2="454.40000000000003" y2="408" stroke="#141414" stroke-width="1.2"/>
<line x1="449.8" y1="416" x2="454.40000000000003" y2="416" stroke="#141414" stroke-width="1.2"/>
<text x="445.85" y="429.72" font-size="11" textLength="12.5" lengthAdjust="spacingAndGlyphs" stroke="#141414" stroke-width="0.3" >27</text>
<circle cx="437.3" cy="480.1" r="15.9" stroke="#141414" stroke-width="1.0" fill="none"/>
<line x1="421.40000000000003" y1="480.5" x2="453.2" y2="480.5" stroke="#141414" stroke-width="0.9" />
<text x="433.8" y="477.5" font-size="11.5" textLength="7.0" lengthAdjust="spacingAndGlyphs" stroke="#141414" stroke-width="0.3" >2</text>
<text x="433.8" y="491.18" font-size="11.5" textLength="7.0" lengthAdjust="spacingAndGlyphs" stroke="#141414" stroke-width="0.3" >5</text>
<line x1="417.4" y1="480.5" x2="421.5" y2="480.5" stroke="#141414" stroke-width="0.9" />
<line x1="396" y1="466" x2="412" y2="478" stroke="#141414" stroke-width="0.8" />
<line x1="30" y1="482.6" x2="396" y2="481.4" stroke="#141414" stroke-width="0.9" />
<line x1="33.5" y1="470" x2="33.5" y2="487" stroke="#141414" stroke-width="0.9" />
<line x1="393.5" y1="468" x2="393.5" y2="487" stroke="#141414" stroke-width="0.9" />
<line x1="31.0" y1="484.8" x2="36.0" y2="479.8" stroke="#141414" stroke-width="0.9" />
<line x1="228.5" y1="484.8" x2="233.5" y2="479.8" stroke="#141414" stroke-width="0.9" />
<line x1="390.5" y1="484.8" x2="395.5" y2="479.8" stroke="#141414" stroke-width="0.9" />
<text x="129" y="480" font-size="10" textLength="26" lengthAdjust="spacingAndGlyphs" stroke="#141414" stroke-width="0.3" >3295</text>
<text x="303" y="480" font-size="10" textLength="24" lengthAdjust="spacingAndGlyphs" stroke="#141414" stroke-width="0.3" >2695</text>
<text x="481" y="268" font-size="12.5" textLength="20" lengthAdjust="spacingAndGlyphs" stroke="#141414" stroke-width="0.3" >2-2</text>
<line x1="474" y1="271.5" x2="508" y2="271.5" stroke="#141414" stroke-width="1.2" />
<path d="M476.4,304.6 L481.5,297.9 L489.3,297.9 L490.3,307.2 L500.7,307.2 L500.7,325.8 L483.6,326.6 L483.1,330.5 L477.4,329.5 Z" stroke="#141414" stroke-width="1.4" fill="none" />
<rect x="480.7" y="310" width="17.30000000000001" height="12.600000000000023" stroke="#141414" stroke-width="1.6" fill="none"/>
<path d="M483.6,310 L484.6,303 Q486,300.5 487.4,303 L488.4,310" stroke="#141414" stroke-width="1.4" fill="none" />
<circle cx="482.5" cy="311.8" r="1.1" fill="#141414"/>
<circle cx="496.2" cy="311.8" r="1.1" fill="#141414"/>
<circle cx="482.5" cy="320.8" r="1.1" fill="#141414"/>
<circle cx="496.2" cy="320.8" r="1.1" fill="#141414"/>
<line x1="477.6" y1="330" x2="478.6" y2="421.7" stroke="#333" stroke-width="0.7" />
<line x1="483.5" y1="327" x2="483.5" y2="421.7" stroke="#333" stroke-width="0.75" />
<line x1="500.5" y1="326" x2="500.5" y2="425" stroke="#333" stroke-width="0.75" />
<path d="M477,421.7 L483,421.7 L485,424.7 L500.6,425.3 L500.6,453.7 L486,454.3 L483,462 L477,465 Z" stroke="#141414" stroke-width="1.4" fill="none" />
<line x1="479.5" y1="429" x2="498.3" y2="429" stroke="#141414" stroke-width="1.5" />
<circle cx="482" cy="430.3" r="1.2" fill="#141414"/><circle cx="496" cy="430.3" r="1.2" fill="#141414"/>
<line x1="484.5" y1="449.6" x2="498.2" y2="449.6" stroke="#141414" stroke-width="1.5" />
<circle cx="496.3" cy="448.5" r="1.2" fill="#141414"/>
<path d="M480,446 L480,456 Q480.5,459.5 483,457 L485.5,446" stroke="#141414" stroke-width="1.5" fill="none" />
<line x1="522.5" y1="293" x2="522.5" y2="470" stroke="#141414" stroke-width="0.8" />
<line x1="502" y1="297.5" x2="527" y2="297.5" stroke="#141414" stroke-width="0.8" />
<line x1="502" y1="327.5" x2="527" y2="327.5" stroke="#141414" stroke-width="0.8" />
<line x1="502" y1="422.5" x2="527" y2="422.5" stroke="#141414" stroke-width="0.8" />
<line x1="487" y1="465.5" x2="527" y2="465.5" stroke="#141414" stroke-width="0.8" />
<line x1="520.3" y1="299.59999999999997" x2="524.7" y2="295.2" stroke="#141414" stroke-width="0.8" />
<line x1="520.3" y1="329.59999999999997" x2="524.7" y2="325.2" stroke="#141414" stroke-width="0.8" />
<line x1="520.3" y1="424.9" x2="524.7" y2="420.5" stroke="#141414" stroke-width="0.8" />
<line x1="520.3" y1="467.2" x2="524.7" y2="462.8" stroke="#141414" stroke-width="0.8" />
<text transform="translate(521.2,319) rotate(-90)" x="0" y="0" font-size="10.2" textLength="16" lengthAdjust="spacingAndGlyphs" stroke="#141414" stroke-width="0.4">445</text>
<text transform="translate(520.8,377) rotate(-90)" x="0" y="0" font-size="9" textLength="19" lengthAdjust="spacingAndGlyphs" stroke="#141414" stroke-width="0.3">1510</text>
<text transform="translate(521,449.5) rotate(-90)" x="0" y="0" font-size="10.5" textLength="17.0" lengthAdjust="spacingAndGlyphs" stroke="#141414" stroke-width="0.4">945</text>
<text transform="translate(510.5,405) rotate(-90)" x="0" y="0" font-size="8.5" textLength="58" lengthAdjust="spacingAndGlyphs" stroke="#141414" stroke-width="0.3">15НР1 60 -7-1</text>
<line x1="512.5" y1="345" x2="512.5" y2="406" stroke="#141414" stroke-width="0.7" />
<line x1="510" y1="347" x2="494" y2="324.5" stroke="#141414" stroke-width="0.8" />
<line x1="506" y1="406" x2="494" y2="425" stroke="#141414" stroke-width="0.7" />
<text transform="translate(510,463) rotate(-90)" x="0" y="0" font-size="8.5" textLength="11.5" lengthAdjust="spacingAndGlyphs" stroke="#141414" stroke-width="0.3">25</text>
<line x1="509.7" y1="452.3" x2="513.3" y2="448.7" stroke="#141414" stroke-width="0.9" />
<line x1="476.5" y1="473.5" x2="476.5" y2="525" stroke="#141414" stroke-width="0.8" />
<line x1="500.5" y1="473.5" x2="500.5" y2="525" stroke="#141414" stroke-width="0.8" />
<line x1="472" y1="485.5" x2="504" y2="485.5" stroke="#141414" stroke-width="0.8" />
<line x1="474.1" y1="487.59999999999997" x2="478.5" y2="483.2" stroke="#141414" stroke-width="0.9" />
<line x1="497.8" y1="487.59999999999997" x2="502.2" y2="483.2" stroke="#141414" stroke-width="0.9" />
<line x1="472" y1="502.5" x2="504" y2="502.5" stroke="#141414" stroke-width="0.8" />
<line x1="474.1" y1="504.7" x2="478.5" y2="500.3" stroke="#141414" stroke-width="0.9" />
<line x1="497.8" y1="504.7" x2="502.2" y2="500.3" stroke="#141414" stroke-width="0.9" />
<line x1="472" y1="521.5" x2="504" y2="521.5" stroke="#141414" stroke-width="0.8" />
<line x1="474.1" y1="523.2" x2="478.5" y2="518.8" stroke="#141414" stroke-width="0.9" />
<line x1="497.8" y1="523.2" x2="502.2" y2="518.8" stroke="#141414" stroke-width="0.9" />
<text x="481.5" y="483.8" font-size="9" textLength="15.5" lengthAdjust="spacingAndGlyphs" stroke="#141414" stroke-width="0.3" >300</text>
<text x="481.5" y="500.6" font-size="9" textLength="15.5" lengthAdjust="spacingAndGlyphs" stroke="#141414" stroke-width="0.3" >350</text>
<text x="481.5" y="518" font-size="9" textLength="15.5" lengthAdjust="spacingAndGlyphs" stroke="#141414" stroke-width="0.3" >400</text>
<text x="56" y="513" font-size="10" textLength="74" lengthAdjust="spacingAndGlyphs" stroke="#141414" stroke-width="0.55" >АБНР1-60-7-1</text>
<line x1="52" y1="514.5" x2="172" y2="514.5" stroke="#141414" stroke-width="0.9" />
<text x="59" y="525" font-size="10" textLength="80" lengthAdjust="spacingAndGlyphs" stroke="#141414" stroke-width="0.55" >АБНР1-60-7А-1</text>
<line x1="52" y1="514.3" x2="44" y2="542" stroke="#141414" stroke-width="0.8" />
<line x1="52" y1="514.3" x2="58.5" y2="525" stroke="#141414" stroke-width="0.8" />
<text x="196.5" y="516" font-size="12" textLength="17.0" lengthAdjust="spacingAndGlyphs" stroke="#141414" stroke-width="0.3" >1-1</text>
<line x1="187.6" y1="518.5" x2="222.6" y2="518.5" stroke="#141414" stroke-width="1.2" />
<line x1="34.2" y1="529.2" x2="394" y2="528.6" stroke="#141414" stroke-width="1.2" />
<line x1="271.7" y1="534.3" x2="355.4" y2="534.1" stroke="#141414" stroke-width="1.0" />
<line x1="265.2" y1="551.6" x2="361.6" y2="551.2" stroke="#555" stroke-width="0.8" />
<path d="M34.2,529.2 L34.2,548 L38.2,548 L38.2,552.4 L223.2,552.2 L224.5,547.9 L237.4,547.9 L238.7,552 L265.2,551.8 L271.6,534.3 L269.6,529.2" stroke="#141414" stroke-width="1.2" fill="none" />
<path d="M357.2,528.6 L355.4,534.1 L361.6,551.2 L390.3,551 L390.3,546.9 L393.4,546 L394,528.6" stroke="#141414" stroke-width="1.2" fill="none" />
<path d="M228.4,548 L228.4,551 Q231,553.8 233.7,551 L233.7,548" stroke="#141414" stroke-width="1.2" fill="none" />
<line x1="42" y1="532.2" x2="42" y2="549.6" stroke="#141414" stroke-width="2.1" />
<line x1="42" y1="533.8000000000001" x2="45.4" y2="533.8000000000001" stroke="#141414" stroke-width="1.7" />
<line x1="42" y1="548.0" x2="45.4" y2="548.0" stroke="#141414" stroke-width="1.7" />
<line x1="64.8" y1="532.2" x2="64.8" y2="549.6" stroke="#141414" stroke-width="2.1" />
<line x1="64.8" y1="533.8000000000001" x2="61.4" y2="533.8000000000001" stroke="#141414" stroke-width="1.7" />
<line x1="64.8" y1="548.0" x2="61.4" y2="548.0" stroke="#141414" stroke-width="1.7" />
<line x1="132" y1="532.2" x2="132" y2="549.6" stroke="#141414" stroke-width="2.1" />
<line x1="132" y1="533.8000000000001" x2="135.4" y2="533.8000000000001" stroke="#141414" stroke-width="1.7" />
<line x1="132" y1="548.0" x2="135.4" y2="548.0" stroke="#141414" stroke-width="1.7" />
<line x1="198" y1="532.2" x2="198" y2="549.6" stroke="#141414" stroke-width="2.1" />
<line x1="198" y1="533.8000000000001" x2="201.4" y2="533.8000000000001" stroke="#141414" stroke-width="1.7" />
<line x1="198" y1="548.0" x2="201.4" y2="548.0" stroke="#141414" stroke-width="1.7" />
<line x1="221.8" y1="532.2" x2="221.8" y2="549.6" stroke="#141414" stroke-width="2.1" />
<line x1="221.8" y1="533.8000000000001" x2="218.4" y2="533.8000000000001" stroke="#141414" stroke-width="1.7" />
<line x1="221.8" y1="548.0" x2="218.4" y2="548.0" stroke="#141414" stroke-width="1.7" />
<line x1="240" y1="532.2" x2="240" y2="549.6" stroke="#141414" stroke-width="2.1" />
<line x1="240" y1="533.8000000000001" x2="243.4" y2="533.8000000000001" stroke="#141414" stroke-width="1.7" />
<line x1="240" y1="548.0" x2="243.4" y2="548.0" stroke="#141414" stroke-width="1.7" />
<line x1="249" y1="531.9" x2="267" y2="531.9" stroke="#141414" stroke-width="1.9" />
<line x1="262.5" y1="532" x2="262.5" y2="549.3" stroke="#141414" stroke-width="2.1" />
<line x1="262.5" y1="533.6" x2="259.1" y2="533.6" stroke="#141414" stroke-width="1.7" />
<line x1="262.5" y1="547.6999999999999" x2="259.1" y2="547.6999999999999" stroke="#141414" stroke-width="1.7" />
<line x1="359.4" y1="531.2" x2="372.8" y2="531.2" stroke="#141414" stroke-width="1.9" />
<line x1="364.2" y1="531.2" x2="364.2" y2="546.5" stroke="#141414" stroke-width="2.1" />
<line x1="364.2" y1="532.8000000000001" x2="367.59999999999997" y2="532.8000000000001" stroke="#141414" stroke-width="1.7" />
<line x1="364.2" y1="544.9" x2="367.59999999999997" y2="544.9" stroke="#141414" stroke-width="1.7" />
<line x1="386.8" y1="531" x2="386.8" y2="547.5" stroke="#141414" stroke-width="2.1" />
<line x1="386.8" y1="532.6" x2="383.40000000000003" y2="532.6" stroke="#141414" stroke-width="1.7" />
<line x1="386.8" y1="545.9" x2="383.40000000000003" y2="545.9" stroke="#141414" stroke-width="1.7" />
<line x1="30" y1="570.5" x2="396" y2="570.5" stroke="#141414" stroke-width="0.9" />
<line x1="34.5" y1="553" x2="34.5" y2="576" stroke="#141414" stroke-width="0.8" />
<line x1="38.5" y1="553" x2="38.5" y2="565" stroke="#141414" stroke-width="0.8" />
<line x1="43.5" y1="553" x2="43.5" y2="565" stroke="#141414" stroke-width="0.8" />
<line x1="31" y1="561.5" x2="49" y2="561.5" stroke="#141414" stroke-width="0.8" />
<line x1="32.7" y1="563.3" x2="36.3" y2="559.7" stroke="#141414" stroke-width="0.8" />
<line x1="36.2" y1="563.3" x2="39.8" y2="559.7" stroke="#141414" stroke-width="0.8" />
<line x1="41.7" y1="563.3" x2="45.3" y2="559.7" stroke="#141414" stroke-width="0.8" />
<line x1="32.1" y1="572.9" x2="36.9" y2="568.1" stroke="#141414" stroke-width="0.9" />
<line x1="265.6" y1="572.9" x2="270.4" y2="568.1" stroke="#141414" stroke-width="0.9" />
<line x1="356.3" y1="572.9" x2="361.09999999999997" y2="568.1" stroke="#141414" stroke-width="0.9" />
<line x1="391.1" y1="572.9" x2="395.9" y2="568.1" stroke="#141414" stroke-width="0.9" />
<line x1="268.5" y1="547" x2="268.5" y2="575" stroke="#141414" stroke-width="0.8" />
<line x1="358.5" y1="546" x2="358.5" y2="573" stroke="#141414" stroke-width="0.8" />
<line x1="393.5" y1="552" x2="393.5" y2="574" stroke="#141414" stroke-width="0.8" />
<text x="21.7" y="559.5" font-size="9" textLength="8.5" lengthAdjust="spacingAndGlyphs" stroke="#141414" stroke-width="0.3" >90</text>
<text x="49" y="560" font-size="8.5" textLength="12" lengthAdjust="spacingAndGlyphs" stroke="#141414" stroke-width="0.3" >165</text>
<text x="147" y="569" font-size="10" textLength="20.30000000000001" lengthAdjust="spacingAndGlyphs" stroke="#141414" stroke-width="0.3" >3890</text>
<text x="309.5" y="569" font-size="10.5" textLength="21.0" lengthAdjust="spacingAndGlyphs" stroke="#141414" stroke-width="0.3" >1510</text>
<text x="368" y="558" font-size="8" textLength="12.199999999999989" lengthAdjust="spacingAndGlyphs" stroke="#141414" stroke-width="0.3" >165</text>
<line x1="367" y1="558.5" x2="396" y2="558.5" stroke="#141414" stroke-width="0.7" />
<line x1="383.5" y1="552" x2="383.5" y2="561" stroke="#141414" stroke-width="0.7" />
<line x1="390.5" y1="552" x2="390.5" y2="561" stroke="#141414" stroke-width="0.7" />
<line x1="381.9" y1="559.9" x2="385.1" y2="556.6999999999999" stroke="#141414" stroke-width="0.7" />
<line x1="388.7" y1="559.9" x2="391.90000000000003" y2="556.6999999999999" stroke="#141414" stroke-width="0.7" />
<line x1="391.79999999999995" y1="559.9" x2="395.0" y2="556.6999999999999" stroke="#141414" stroke-width="0.7" />
<text x="369.5" y="568" font-size="9.5" textLength="16.19999999999999" lengthAdjust="spacingAndGlyphs" stroke="#141414" stroke-width="0.3" >590</text>
<text x="396" y="557" font-size="9.5" textLength="8.399999999999977" lengthAdjust="spacingAndGlyphs" stroke="#141414" stroke-width="0.3" >90</text>
<text transform="translate(415,545) rotate(-90)" x="0" y="0" font-size="9.5" textLength="10" lengthAdjust="spacingAndGlyphs" stroke="#141414" stroke-width="0.3">40</text>
<line x1="417.5" y1="521.5" x2="417.5" y2="537.5" stroke="#141414" stroke-width="0.8" />
<line x1="397.5" y1="528.5" x2="420" y2="528.5" stroke="#141414" stroke-width="0.8" />
<line x1="399.6" y1="532.5" x2="421.5" y2="532.5" stroke="#141414" stroke-width="0.8" />
<line x1="415.8" y1="530.0" x2="419.40000000000003" y2="526.4000000000001" stroke="#141414" stroke-width="0.8" />
<line x1="415.8" y1="534.4" x2="419.40000000000003" y2="530.8000000000001" stroke="#141414" stroke-width="0.8" />
<circle cx="292.8" cy="506.8" r="15.6" stroke="#141414" stroke-width="1.0" fill="none"/>
<line x1="277.2" y1="506.5" x2="308.40000000000003" y2="506.5" stroke="#141414" stroke-width="0.9" />
<text x="286.3" y="504.2" font-size="11" textLength="13.0" lengthAdjust="spacingAndGlyphs" stroke="#141414" stroke-width="0.3" >23</text>
<text x="286.3" y="517.52" font-size="11" textLength="13.0" lengthAdjust="spacingAndGlyphs" stroke="#141414" stroke-width="0.3" >23</text>
<line x1="277.5" y1="508" x2="269" y2="533" stroke="#141414" stroke-width="0.8" />
</g>
</svg>
</body></html>
